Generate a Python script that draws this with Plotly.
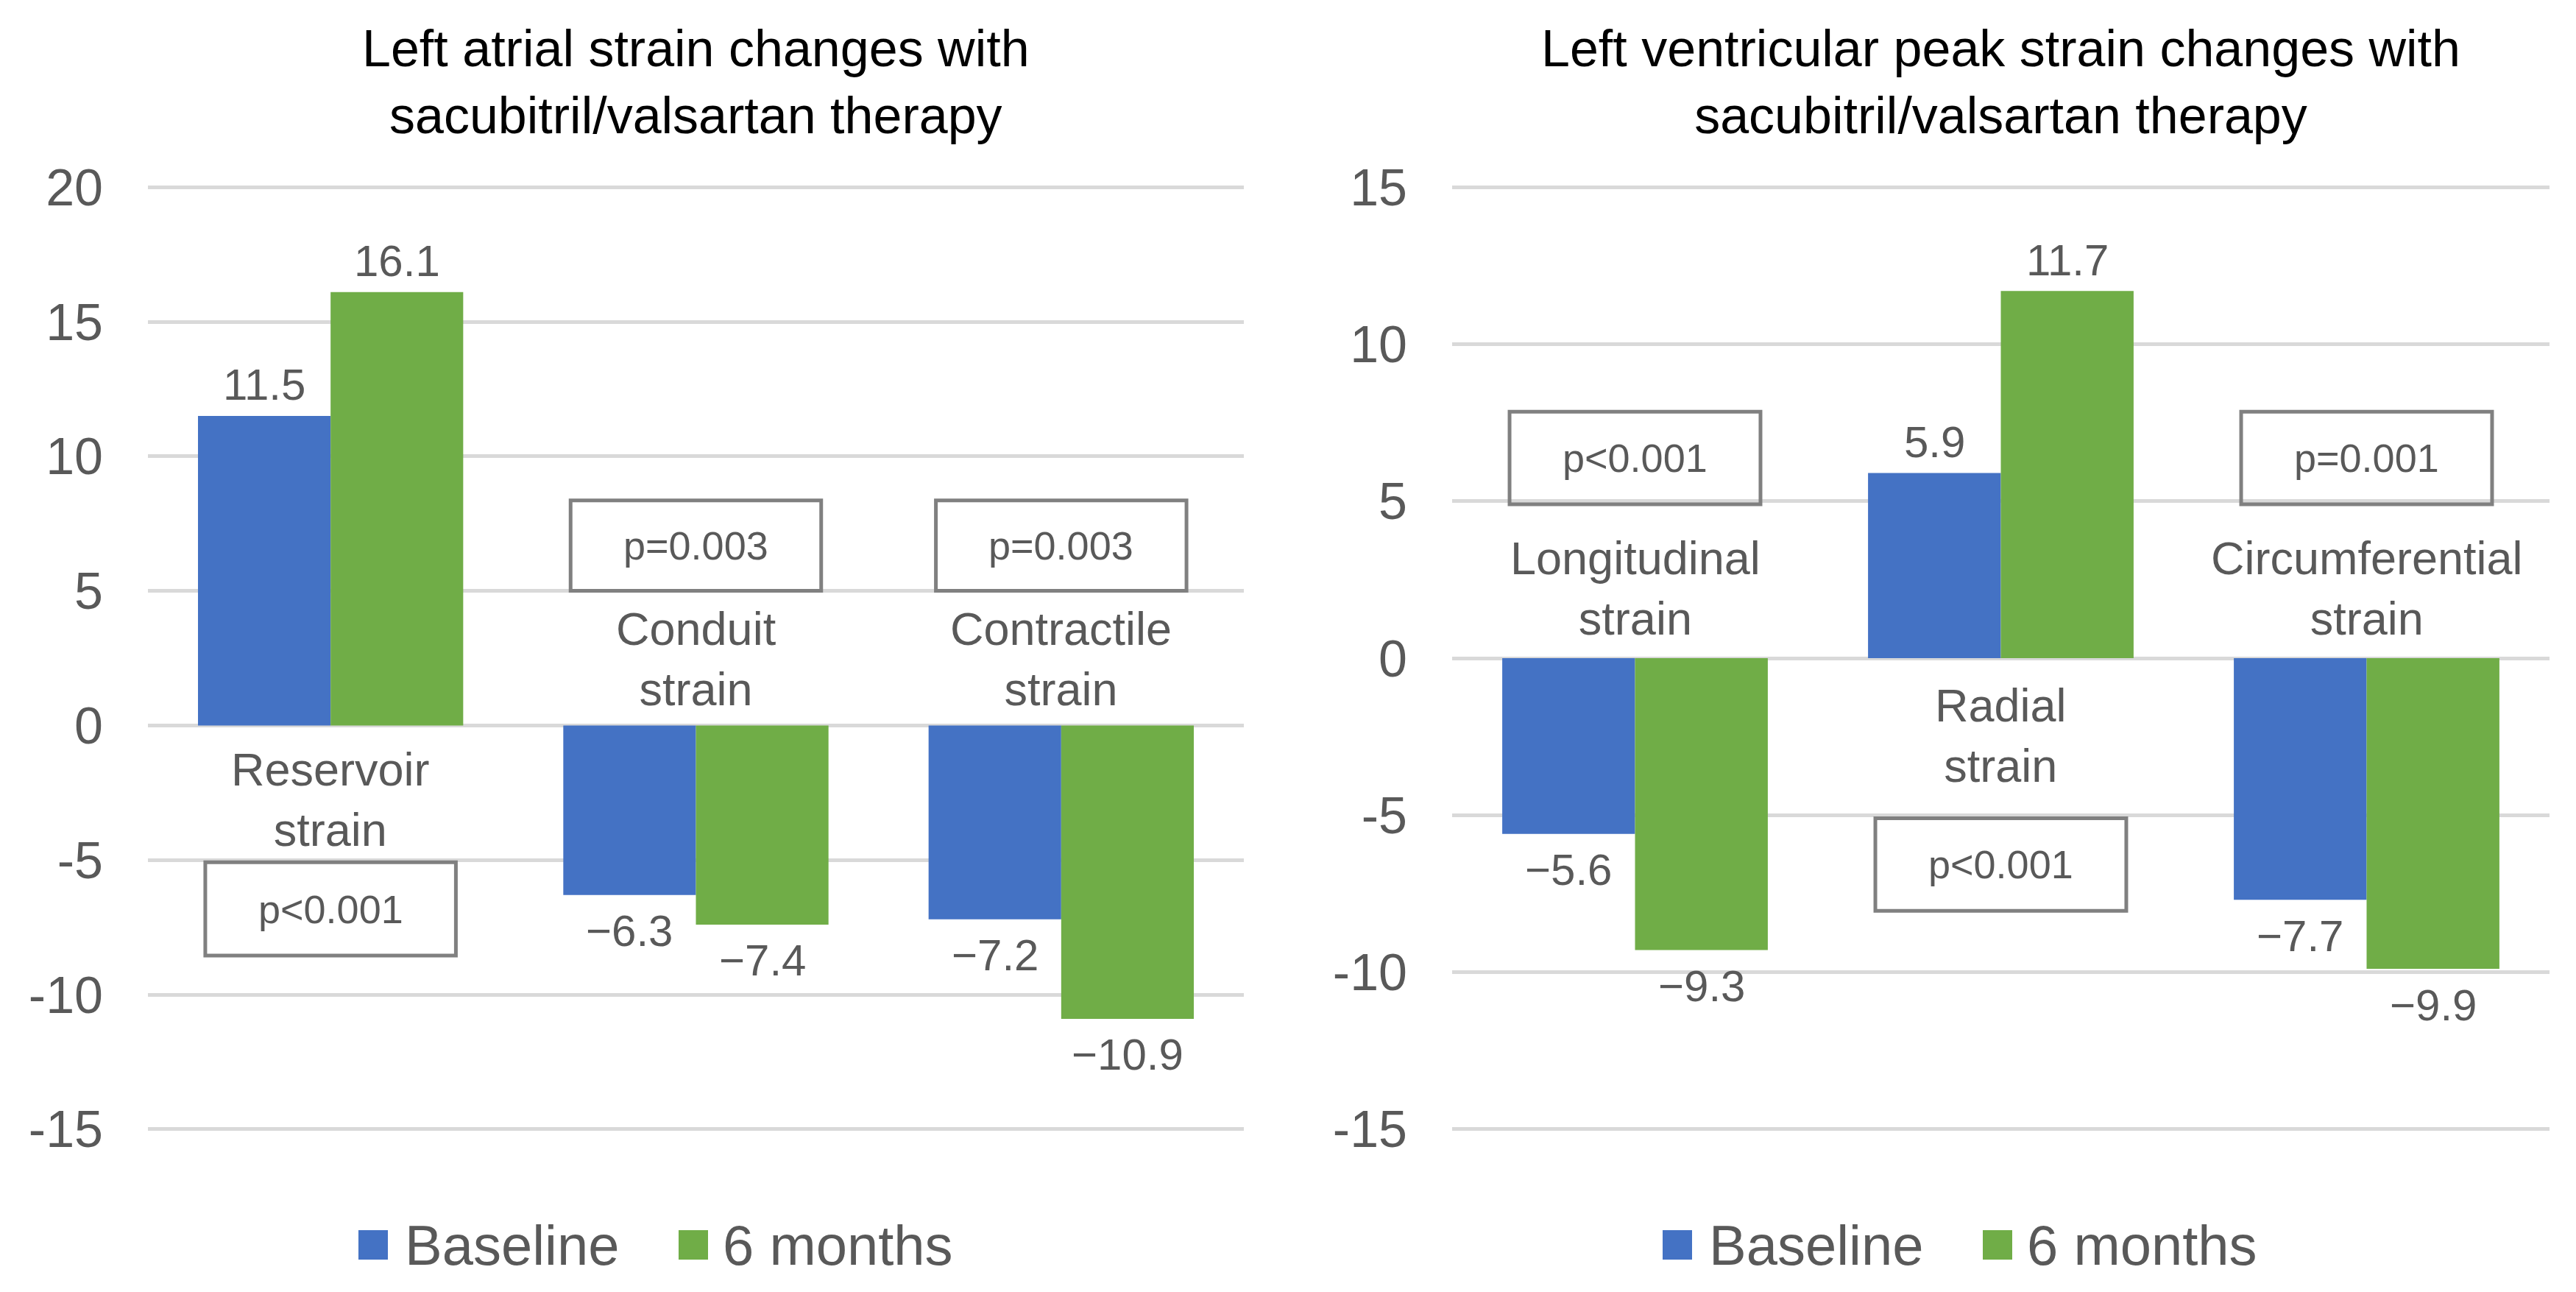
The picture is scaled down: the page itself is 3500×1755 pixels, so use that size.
import plotly.graph_objects as go

# ---------------- data ----------------
left_title = "Left atrial strain changes with<br>sacubitril/valsartan therapy"
right_title = "Left ventricular peak strain changes with<br>sacubitril/valsartan therapy"

left_categories = ["Reservoir<br>strain", "Conduit<br>strain", "Contractile<br>strain"]
right_categories = ["Longitudinal<br>strain", "Radial<br>strain", "Circumferential<br>strain"]

series_names = ["Baseline", "6 months"]
series_colors = ["#4472C4", "#70AD47"]

left_baseline = [11.5, -6.3, -7.2]
left_6months = [16.1, -7.4, -10.9]
right_baseline = [-5.6, 5.9, -7.7]
right_6months = [-9.3, 11.7, -9.9]

left_pvalues = ["p<0.001", "p=0.003", "p=0.003"]
right_pvalues = ["p<0.001", "p<0.001", "p=0.001"]

left_tickvals = [-15, -10, -5, 0, 5, 10, 15, 20]
left_ticktext = ["-15", "-10", "-5", "0", "5", "10", "15", "20"]
right_tickvals = [-15, -10, -5, 0, 5, 10, 15]
right_ticktext = ["-15", "-10", "-5", "0", "5", "10", "15"]

# ---------------- layout constants ----------------
W, H = 3500, 1755
OFF = 8  # page body margin compensation
FONT = "Liberation Sans, Arial, sans-serif"
GRAY = "#595959"
GRID = "#D9D9D9"
BOX = "#808080"
BARGAP = 0.274

plot_top_px, plot_bot_px = 252, 1536
left_px = (201, 1690)
right_px = (1973, 3464)
EDGE = 0.06  # tiny range pad so the end gridlines are drawn


def px_x(p):
    return (p - OFF) / W


def px_y(p):
    return 1 - (p - OFF) / H


def xdom(px):
    return [px_x(px[0]), px_x(px[1])]


ydom = [px_y(plot_bot_px), px_y(plot_top_px)]

# layout positions (data units) for category labels and p-value boxes
left_label_y = [-2.75, 2.47, 2.47]
left_box_y = [(-8.55, -5.08), (5.0, 8.36), (5.0, 8.36)]
right_label_y = [2.22, -2.47, 2.22]
right_box_y = [(4.9, 7.85), (-8.05, -5.1), (4.9, 7.85)]
BOX_HALF = 0.343
LABEL_UP, LABEL_DOWN = 42, 49  # px gap from bar end to value-label centre


def fmt(v):
    return f"{v:.1f}".replace("-", "\u2212")


fig = go.Figure()
annotations = []
shapes = []

panels = [
    ("x", "y", left_px, left_categories, [left_baseline, left_6months]),
    ("x2", "y2", right_px, right_categories, [right_baseline, right_6months]),
]
for xa, ya, px, cats, vals in panels:
    bar_px = (px[1] - px[0]) / len(cats) * (1 - BARGAP) / 2
    for k, (name, color, v) in enumerate(zip(series_names, series_colors, vals)):
        fig.add_trace(go.Bar(
            x=list(range(len(cats))), y=v, name=name,
            marker=dict(color=color, line=dict(width=0)),
            showlegend=False, xaxis=xa, yaxis=ya,
            hoverinfo="skip",
        ))
        # value labels, placed on the bar ends through the axis scales
        for i, a in enumerate(v):
            annotations.append(dict(
                text=fmt(a), xref=xa, yref=ya, x=i, y=a,
                xshift=(k - 0.5) * bar_px,
                yshift=LABEL_UP if a >= 0 else -LABEL_DOWN,
                xanchor="center", yanchor="middle", showarrow=False,
                font=dict(family=FONT, size=60, color=GRAY),
            ))

axis_common = dict(showline=False, zeroline=False, ticks="", automargin=False)
fig.update_layout(
    template="none",
    width=W, height=H,
    margin=dict(l=0, r=0, t=0, b=0, pad=0),
    paper_bgcolor="white", plot_bgcolor="white",
    showlegend=False,
    barmode="group", bargap=BARGAP, bargroupgap=0,
    font=dict(family=FONT, color=GRAY),
    xaxis=dict(domain=xdom(left_px), range=[-0.5, 2.5], showticklabels=False,
               showgrid=False, anchor="y", **axis_common),
    yaxis=dict(domain=ydom, range=[-15 - EDGE, 20 + EDGE], tickvals=left_tickvals,
               ticktext=left_ticktext,
               showgrid=True, gridcolor=GRID, gridwidth=5, anchor="x",
               tickfont=dict(family=FONT, size=70, color=GRAY), ticklabelstandoff=60,
               **axis_common),
    xaxis2=dict(domain=xdom(right_px), range=[-0.5, 2.5], showticklabels=False,
                showgrid=False, anchor="y2", **axis_common),
    yaxis2=dict(domain=ydom, range=[-15 - EDGE, 15 + EDGE], tickvals=right_tickvals,
                ticktext=right_ticktext,
                showgrid=True, gridcolor=GRID, gridwidth=5, anchor="x2",
                tickfont=dict(family=FONT, size=70, color=GRAY), ticklabelstandoff=60,
                **axis_common),
)

# titles
for title, px in [(left_title, left_px), (right_title, right_px)]:
    annotations.append(dict(
        text=title, xref="paper", yref="paper",
        x=px_x((px[0] + px[1]) / 2), y=px_y(111),
        xanchor="center", yanchor="middle", showarrow=False,
        font=dict(family=FONT, size=70, color="#000000"),
    ))

# category labels and p-value boxes
for xa, ya, cats, label_y, pvals, box_y in [
    ("x", "y", left_categories, left_label_y, left_pvalues, left_box_y),
    ("x2", "y2", right_categories, right_label_y, right_pvalues, right_box_y),
]:
    for i, cat in enumerate(cats):
        annotations.append(dict(
            text=cat, xref=xa, yref=ya, x=i, y=label_y[i],
            xanchor="center", yanchor="middle", showarrow=False,
            font=dict(family=FONT, size=63, color=GRAY),
        ))
        y0, y1 = box_y[i]
        shapes.append(dict(
            type="rect", xref=xa, yref=ya,
            x0=i - BOX_HALF, x1=i + BOX_HALF, y0=y0, y1=y1,
            line=dict(color=BOX, width=5), fillcolor="rgba(0,0,0,0)", layer="above",
        ))
        annotations.append(dict(
            text=pvals[i], xref=xa, yref=ya, x=i, y=(y0 + y1) / 2,
            xanchor="center", yanchor="middle", showarrow=False,
            font=dict(family=FONT, size=54, color=GRAY),
        ))

# legends (one per panel)
leg_y_center = 1691
sq = 40
offsets = [(286, 347), (721, 779)]
for px in (left_px, right_px):
    for (sq_off, txt_off), name, color in zip(offsets, series_names, series_colors):
        x0 = px[0] + sq_off
        shapes.append(dict(
            type="rect", xref="paper", yref="paper",
            x0=px_x(x0), x1=px_x(x0 + sq),
            y0=px_y(leg_y_center + sq / 2), y1=px_y(leg_y_center - sq / 2),
            line=dict(width=0), fillcolor=color,
        ))
        annotations.append(dict(
            text=name, xref="paper", yref="paper",
            x=px_x(px[0] + txt_off), y=px_y(leg_y_center),
            xanchor="left", yanchor="middle", showarrow=False,
            font=dict(family=FONT, size=76, color=GRAY),
        ))

fig.update_layout(annotations=annotations, shapes=shapes)
fig.write_html("out.html")
